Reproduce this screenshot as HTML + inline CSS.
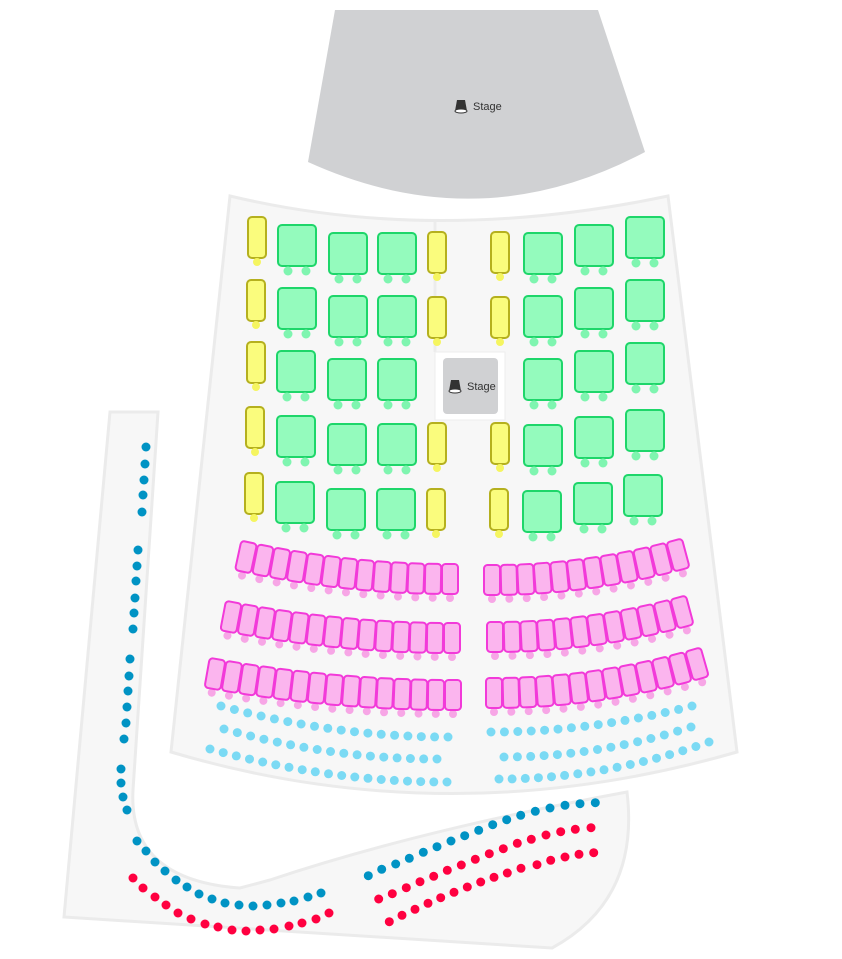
<!DOCTYPE html>
<html><head><meta charset="utf-8"><style>
html,body{margin:0;padding:0;background:#fff;width:842px;height:959px;overflow:hidden}
svg{display:block}
text{font-family:"Liberation Sans",sans-serif;font-size:11px;fill:#333}
</style></head><body>
<svg id="s" width="842" height="959" viewBox="0 0 842 959" xmlns="http://www.w3.org/2000/svg">
<path d="M335,10 L598,10 L645,152 Q480,240 308,162 Z" fill="#d0d1d3"/>
<g transform="translate(461,106)"><path d="M-4,-6 L4,-6 L6,5 L-6,5 Z" fill="#333"/><ellipse cx="0" cy="5" rx="6" ry="2" fill="#fff" stroke="#333" stroke-width="1"/></g>
<text x="473" y="110">Stage</text>
<path d="M230,196 Q435,245 668,196 L737,752 Q450,835 171,752 Z" fill="#f7f7f7" stroke="#ebebeb" stroke-width="3"/>
<path d="M110,412 L158,412 L133,790 Q128,880 240,888 L270,880 Q420,830 627,792 Q640,900 552,948 L64,917 Z" fill="#f7f7f7" stroke="#ebebeb" stroke-width="3"/>
<line x1="435" y1="222" x2="435" y2="352" stroke="#ececec" stroke-width="3"/>
<rect x="435" y="352" width="70" height="68" fill="#fff" stroke="#eee" stroke-width="1"/>
<rect x="443" y="358" width="55" height="56" rx="4" fill="#d0d1d3"/>
<g transform="translate(455,386)"><path d="M-4,-6 L4,-6 L6,5 L-6,5 Z" fill="#333"/><ellipse cx="0" cy="5" rx="6" ry="2" fill="#fff" stroke="#333" stroke-width="1"/></g>
<text x="467" y="390">Stage</text>
<g id="g"></g>
</svg>
<script>
var g=document.getElementById('g'),h='';
function c(x,y,r,f){h+='<circle cx="'+x.toFixed(1)+'" cy="'+y.toFixed(1)+'" r="'+r+'" fill="'+f+'"/>';}
function yel(x,y,hh){hh=hh||41;h+='<rect x="'+x+'" y="'+y+'" width="18" height="'+hh+'" rx="4" fill="#fafc7d" stroke="#b5b01e" stroke-width="2"/>';c(x+9,y+hh+4,4,'#f5f560');}
function grn(x,y){h+='<rect x="'+x+'" y="'+y+'" width="38" height="41" rx="4" fill="#94fbbd" stroke="#1ed66a" stroke-width="2"/>';c(x+10,y+46,4.5,'#7ff5b0');c(x+28,y+46,4.5,'#7ff5b0');}
// yellow left col
[[248,217],[247,280],[247,342],[246,407],[245,473]].forEach(function(p){yel(p[0],p[1],41)});
[[428,232],[428,297],[428,423],[427,489]].forEach(function(p){yel(p[0],p[1],41)});
[[491,232],[491,297],[491,423],[490,489]].forEach(function(p){yel(p[0],p[1],41)});
var L1=[[278,225],[278,288],[277,351],[277,416],[276,482]],L2=[[329,233],[329,296],[328,359],[328,424],[327,489]],L3=[[378,233],[378,296],[378,359],[378,424],[377,489]];
var R1=[[524,233],[524,296],[524,359],[524,425],[523,491]],R2=[[575,225],[575,288],[575,351],[575,417],[574,483]],R3=[[626,217],[626,280],[626,343],[626,410],[624,475]];
[L1,L2,L3,R1,R2,R3].forEach(function(a){a.forEach(function(p){grn(p[0],p[1])})});
function pink(x0,y0,x1,y1,n,left){
 for(var i=0;i<n;i++){var t=i/(n-1),x=x0+(x1-x0)*t,y,d;
  if(left){y=y0+(y1-y0)*(1-(1-t)*(1-t));d=(y1-y0)*2*(1-t);}else{y=y0+(y1-y0)*t*t;d=(y1-y0)*2*t;}
  var a=Math.atan2(d,(x1-x0))*180/Math.PI;
  h+='<g transform="translate('+x.toFixed(1)+','+y.toFixed(1)+') rotate('+a.toFixed(1)+')"><circle cx="0" cy="19" r="4" fill="#f7a6e6"/><rect x="-8" y="-15" width="16" height="30" rx="3.5" fill="#fbb5ee" stroke="#f23ad9" stroke-width="2"/></g>';}
}
pink(246,557,450,579,13,1);pink(231,617,452,638,14,1);pink(215,674,453,695,15,1);
pink(492,580,678,555,12,0);pink(495,637,682,612,12,0);pink(494,693,697,664,13,0);
function drow(x0,y0,x1,y1,n,left,f){for(var i=0;i<n;i++){var t=i/(n-1),y=left?y0+(y1-y0)*(1-(1-t)*(1-t)):y0+(y1-y0)*t*t;c(x0+(x1-x0)*t,y,4.5,f);}}
var lb='#7bdaf4';
drow(221,706,448,737,18,1,lb);drow(224,729,437,759,17,1,lb);drow(210,749,447,782,19,1,lb);
drow(491,732,692,706,16,0,lb);drow(504,757,691,727,15,0,lb);drow(499,779,709,742,17,0,lb);
var db='#0093c4',rd='#ff0040';
[[146,447],[145,464],[144,480],[143,495],[142,512],[138,550],[137,566],[136,581],[135,598],[134,613],[133,629],[130,659],[129,676],[128,691],[127,707],[126,723],[124,739],[121,769],[121,783],[123,797],[127,810],
[137,841],[146,851],[155,862],[165,871],[176,880],[187,887],[199,894],[212,899],[225,903],[239,905],[253,906],[267,905],[281,903],[294,901],[308,897],[321,893]].forEach(function(p){c(p[0],p[1],4.5,db)});
[[133,878],[143,888],[155,897],[166,905],[178,913],[191,919],[205,924],[218,927],[232,930],[246,931],[260,930],[274,929],[289,926],[302,923],[316,919],[329,913]].forEach(function(p){c(p[0],p[1],4.5,rd)});
var bx=[85,125,167,208,250,291,333,374,416,458,500,542,586,630,675,720,766],by=[287,268,252,235,217,200,183,167,151,134,119,106,94,84,76,71,68];
bx.forEach(function(x,i){c(340+x/3,780+by[i]/3,4.5,db)});
var r1x=[116,157,199,240,281,322,364,406,448,490,532,574,618,662,706,753],r1y=[357,341,323,305,289,271,255,238,221,206,190,178,165,155,148,143];
r1x.forEach(function(x,i){c(340+x/3,780+r1y[i]/3,4.5,rd)});
var r2x=[148,186,225,264,302,342,382,422,462,502,543,591,632,675,717,761],r2y=[425,406,388,370,353,337,321,306,292,279,265,254,241,231,223,218];
r2x.forEach(function(x,i){c(340+x/3,780+r2y[i]/3,4.5,rd)});
g.innerHTML=h;
</script>
</body></html>
